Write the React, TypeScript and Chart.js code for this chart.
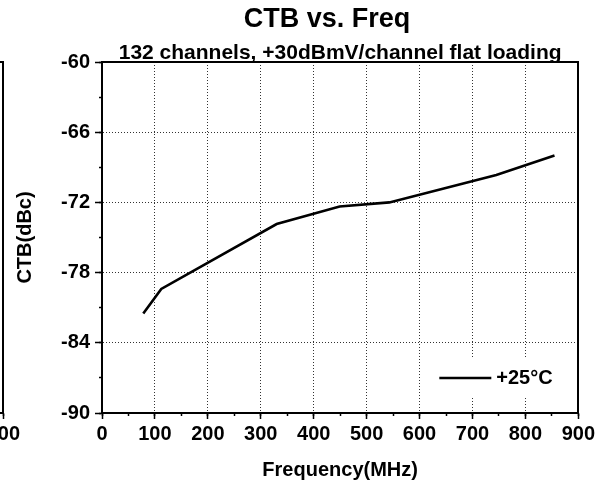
import React, { useEffect, useRef } from 'react';
import { Chart, registerables } from 'chart.js';

Chart.register(...registerables);

// ---- data ----
const frequencyMHz = [78, 112, 330, 449, 543, 745, 855];
const ctbDbc = [-81.5, -79.4, -73.85, -72.35, -72.0, -69.65, -68.0];
const seriesLabel = '+25°C';

const xTickValues = [0, 100, 200, 300, 400, 500, 600, 700, 800, 900];
const yTickValues = [-90, -84, -78, -72, -66, -60];

const chartTitle = 'CTB vs. Freq';
const chartSubtitle = '132 channels, +30dBmV/channel flat loading';
const xAxisTitle = 'Frequency(MHz)';
const yAxisTitle = 'CTB(dBc)';

const FAMILY = '"Liberation Sans", Arial, Helvetica, sans-serif';
const X_MIN = 0, X_MAX = 900, Y_MIN = -90, Y_MAX = -60;

const gridColor = (ctx: any, ends: number[]) =>
  ctx.tick && ends.includes(ctx.tick.value) ? 'rgba(0,0,0,0)' : '#333';

const insideLegend = {
  id: 'insideLegend',
  afterDraw(chart: any) {
    const ds = chart.data.datasets[0];
    if (!ds) return;
    const { ctx, chartArea: a } = chart;
    ctx.save();
    ctx.fillStyle = '#fff';
    ctx.fillRect(a.right - 149, a.bottom - 55, 142, 40);
    ctx.strokeStyle = ds.borderColor;
    ctx.lineWidth = ds.borderWidth;
    ctx.beginPath();
    ctx.moveTo(a.right - 139, a.bottom - 35);
    ctx.lineTo(a.right - 87, a.bottom - 35);
    ctx.stroke();
    ctx.font = `bold 20px ${FAMILY}`;
    ctx.textBaseline = 'middle';
    ctx.textAlign = 'left';
    ctx.fillStyle = '#000';
    ctx.fillText(ds.label, a.right - 82, a.bottom - 35);
    ctx.restore();
  },
};

function makeConfig(withData: boolean): any {
  const datasets = withData
    ? [
        {
          label: seriesLabel,
          data: frequencyMHz.map((f, i) => ({ x: f, y: ctbDbc[i] })),
          borderColor: '#000',
          borderWidth: 2.6,
          pointRadius: 0,
          fill: false,
          tension: 0,
        },
      ]
    : [];
  return {
    type: 'line',
    data: { datasets },
    plugins: [insideLegend],
    options: {
      animation: false,
      responsive: false,
      events: [],
      layout: { padding: { left: 56, right: 0, top: 0, bottom: 0 } },
      plugins: {
        legend: { display: false },
        tooltip: { enabled: false },
        title: {
          display: true,
          text: chartTitle,
          color: '#000',
          font: { family: FAMILY, size: 27, weight: 'bold', lineHeight: 1 },
          padding: { top: 6, bottom: 7 },
        },
      },
      scales: {
        x: {
          type: 'linear',
          position: 'bottom',
          min: X_MIN,
          max: X_MAX,
          afterBuildTicks: (s: any) => {
            s.ticks = xTickValues.map((value) => ({ value }));
          },
          afterFit: (s: any) => {
            s.height = 71;
          },
          ticks: {
            autoSkip: false,
            maxRotation: 0,
            padding: 3,
            color: '#000',
            font: { family: FAMILY, size: 20, weight: 'bold' },
            callback: (v: any) => String(v),
          },
          grid: {
            color: (ctx: any) => gridColor(ctx, [X_MIN, X_MAX]),
            lineWidth: 1,
            tickLength: 6,
            tickWidth: 1.5,
            tickColor: '#000',
          },
          border: { display: true, color: '#000', width: 2, dash: [1, 2] },
          title: {
            display: true,
            text: xAxisTitle,
            color: '#000',
            font: { family: FAMILY, size: 20, weight: 'bold' },
            padding: { top: 0, bottom: 2 },
          },
        },
        x2: {
          type: 'linear',
          axis: 'x',
          position: 'top',
          min: X_MIN,
          max: X_MAX,
          afterFit: (s: any) => {
            s.height = 22;
          },
          ticks: { display: false },
          grid: { drawOnChartArea: false, drawTicks: false },
          border: { display: true, color: '#000', width: 2 },
          title: {
            display: true,
            text: chartSubtitle,
            color: '#000',
            font: { family: FAMILY, size: 21, weight: 'bold' },
            padding: { top: 1, bottom: 0 },
          },
        },
        xm: {
          type: 'linear',
          axis: 'x',
          position: { y: Y_MIN },
          min: X_MIN,
          max: X_MAX,
          ticks: { display: false, stepSize: 50 },
          grid: {
            drawOnChartArea: false,
            drawTicks: true,
            tickLength: 3,
            tickWidth: 1.5,
            tickColor: '#000',
          },
          border: { display: false },
        },
        y: {
          type: 'linear',
          position: 'left',
          min: Y_MIN,
          max: Y_MAX,
          afterBuildTicks: (s: any) => {
            s.ticks = yTickValues.map((value) => ({ value }));
          },
          afterFit: (s: any) => {
            s.width = 46;
          },
          ticks: {
            autoSkip: false,
            padding: 5,
            color: '#000',
            font: { family: FAMILY, size: 20, weight: 'bold' },
            callback: (v: any) => String(v),
          },
          grid: {
            color: (ctx: any) => gridColor(ctx, [Y_MIN, Y_MAX]),
            lineWidth: 1,
            tickLength: 7,
            tickWidth: 1.5,
            tickColor: '#000',
          },
          border: { display: true, color: '#000', width: 2, dash: [1, 2] },
          title: {
            display: true,
            text: yAxisTitle,
            color: '#000',
            font: { family: FAMILY, size: 20, weight: 'bold' },
            padding: { top: -43, bottom: 0 },
          },
        },
        y2: {
          type: 'linear',
          axis: 'y',
          position: 'right',
          min: Y_MIN,
          max: Y_MAX,
          afterFit: (s: any) => {
            s.width = 19;
          },
          ticks: { display: false },
          grid: { drawOnChartArea: false, drawTicks: false },
          border: { display: true, color: '#000', width: 2 },
        },
        ym: {
          type: 'linear',
          axis: 'y',
          position: { x: X_MIN },
          min: Y_MIN,
          max: Y_MAX,
          ticks: { display: false, stepSize: 3 },
          grid: {
            drawOnChartArea: false,
            drawTicks: true,
            tickLength: 3,
            tickWidth: 1.5,
            tickColor: '#000',
          },
          border: { display: false },
        },
      },
    },
  };
}

export default function App() {
  const mainRef = useRef<HTMLCanvasElement | null>(null);
  const leftRef = useRef<HTMLCanvasElement | null>(null);

  useEffect(() => {
    const charts: Chart[] = [];
    if (leftRef.current) charts.push(new Chart(leftRef.current, makeConfig(false)));
    if (mainRef.current) charts.push(new Chart(mainRef.current, makeConfig(true)));
    return () => charts.forEach((c) => c.destroy());
  }, []);

  return (
    <div
      style={{
        position: 'fixed',
        left: 0,
        top: 0,
        width: 598,
        height: 484,
        overflow: 'hidden',
        background: '#fff',
      }}
    >
      <canvas
        ref={leftRef}
        width={598}
        height={484}
        style={{ position: 'absolute', left: -575, top: 0, width: 598, height: 484 }}
      />
      <canvas
        ref={mainRef}
        width={598}
        height={484}
        style={{ position: 'absolute', left: 0, top: 0, width: 598, height: 484 }}
      />
    </div>
  );
}
